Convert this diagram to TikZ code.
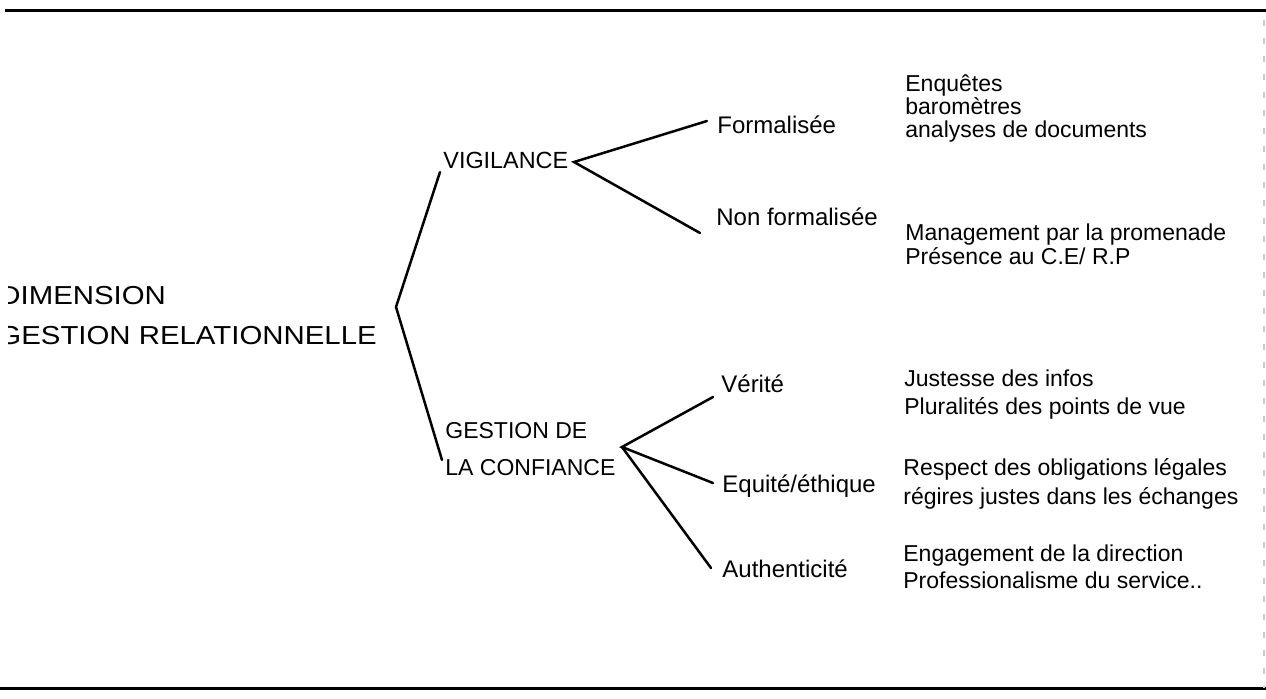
\documentclass[tikz,border=0pt]{standalone}
\usepackage{fontspec}
\setmainfont{Liberation Sans}
\begin{document}
\begin{tikzpicture}[x=0.5pt,y=-0.5pt,
  lbl/.style={inner sep=0pt,anchor=base west,font=\fontsize{12}{14}\selectfont},
  grp/.style={inner sep=0pt,anchor=base west,font=\fontsize{11.5}{14}\selectfont},
  det/.style={inner sep=0pt,anchor=base west,font=\fontsize{11.5}{14}\selectfont},
  rootlbl/.style={inner sep=0pt,anchor=base west,font=\fontsize{13}{15}\selectfont,xscale=1.13},
  conn/.style={line width=1.25pt,line cap=round,line join=miter},
  rulestyle/.style={line width=1.5pt}]
\useasboundingbox (0,0) rectangle (1266,698);
% rules of the scanned page
\draw[rulestyle] (5,10) -- (1266,10);
\draw[rulestyle] (0,688) -- (1266,688);
\draw[black!20,line width=0.6pt,dash pattern=on 3pt off 6pt] (1264,20) -- (1264,688);
% root text, cut at the left edge
\begin{scope}
\clip (8,0) rectangle (400,698);
\node[rootlbl] (dim1) at (-1,304) {DIMENSION};
\node[rootlbl] (dim2) at (-2,344) {GESTION RELATIONNELLE};
\end{scope}
% level 1
\node[grp,font=\fontsize{11.7}{14}\selectfont] (vig) at (443,168) {VIGILANCE};
\node[grp] (gdc1) at (445,438) {GESTION DE};
\node[grp] (gdc2) at (445,475) {LA CONFIANCE};
% level 2
\node[lbl] (form) at (717,133) {Formalisée};
\node[lbl] (nform) at (716,225) {Non formalisée};
\node[lbl] (ver) at (721,392) {Vérité};
\node[lbl] (equ) at (722,492) {Equité/éthique};
\node[lbl] (aut) at (722,577) {Authenticité};
% level 3
\node[det] (e1) at (905,91) {Enquêtes};
\node[det] (e2) at (905,114) {baromètres};
\node[det] (e3) at (905,137) {analyses de documents};
\node[det] (m1) at (905,240) {Management par la promenade};
\node[det] (m2) at (905,264) {Présence au C.E/ R.P};
\node[det] (j1) at (904,386) {Justesse des infos};
\node[det] (j2) at (904,414) {Pluralités des points de vue};
\node[det] (r1) at (903,475) {Respect des obligations légales};
\node[det] (r2) at (903,504) {régires justes dans les échanges};
\node[det] (g1) at (903,561) {Engagement de la direction};
\node[det] (g2) at (903,588) {Professionalisme du service..};
% connector points
\coordinate (rtip) at (396,307);
\coordinate (vigin) at (440,172);
\coordinate (gdcin) at (442,460);
\coordinate (vigtip) at (574,162);
\coordinate (formin) at (707,121);
\coordinate (nformin) at (700,233);
\coordinate (gdctip) at (622,447);
\coordinate (verin) at (713,397);
\coordinate (equin) at (713,483);
\coordinate (autin) at (711,568);
% connectors
\draw[conn] (vigin) -- (rtip) -- (gdcin);
\draw[conn] (formin) -- (vigtip) -- (nformin);
\draw[conn] (verin) -- (gdctip) -- (equin);
\draw[conn] (gdctip) -- (autin);
\end{tikzpicture}
\end{document}
